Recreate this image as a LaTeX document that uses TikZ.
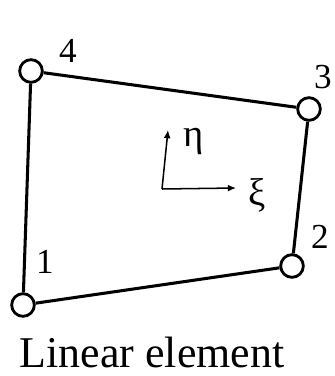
\documentclass[tikz,border=0pt]{standalone}
\usepackage{fontspec}
\setmainfont{Liberation Serif}
\usetikzlibrary{arrows.meta}

\begin{document}
\begin{tikzpicture}[x=0.03cm, y=-0.03cm,
    corner/.style={circle, draw=black, fill=white, line width=2.4pt, minimum size=0.68cm, inner sep=0pt},
    edge/.style={line width=2.6pt},
    axis/.style={line width=1.3pt, -{Latex[length=7pt, width=6pt]}},
    num/.style={font=\fontsize{30}{34}\selectfont, inner sep=0pt}]

  \useasboundingbox (0,0) rectangle (334,376);

  % -- Nodes of the element --
  \node[corner] (n1) at (23, 305) {};
  \node[corner] (n2) at (292, 266) {};
  \node[corner] (n3) at (309, 109) {};
  \node[corner] (n4) at (31, 71) {};

  % -- Edges --
  \draw[edge] (n1) -- (n2);
  \draw[edge] (n2) -- (n3);
  \draw[edge] (n3) -- (n4);
  \draw[edge] (n4) -- (n1);

  % -- Node numbers --
  \node[num] (l1) at (45, 262) {1};
  \node[num] (l2) at (320, 237) {2};
  \node[num] (l3) at (323, 77) {3};
  \node[num] (l4) at (68, 51) {4};

  % -- Local axes --
  \coordinate (o) at (162, 189);
  \coordinate (xi) at (236, 188);
  \coordinate (eta) at (168, 130);
  \draw[axis] (o) -- (xi);
  \draw[axis] (o) -- (eta);
  \node[num, font=\fontsize{33}{36}\selectfont] (lxi) at (257, 195) {ξ};
  \node[num, font=\fontsize{33}{36}\selectfont] (leta) at (194, 142) {η};

  % -- Caption --
  \node[anchor=base, font=\fontsize{37.5}{42}\selectfont, inner sep=0pt] (cap) at (152, 367) {Linear element};

\end{tikzpicture}
\end{document}
